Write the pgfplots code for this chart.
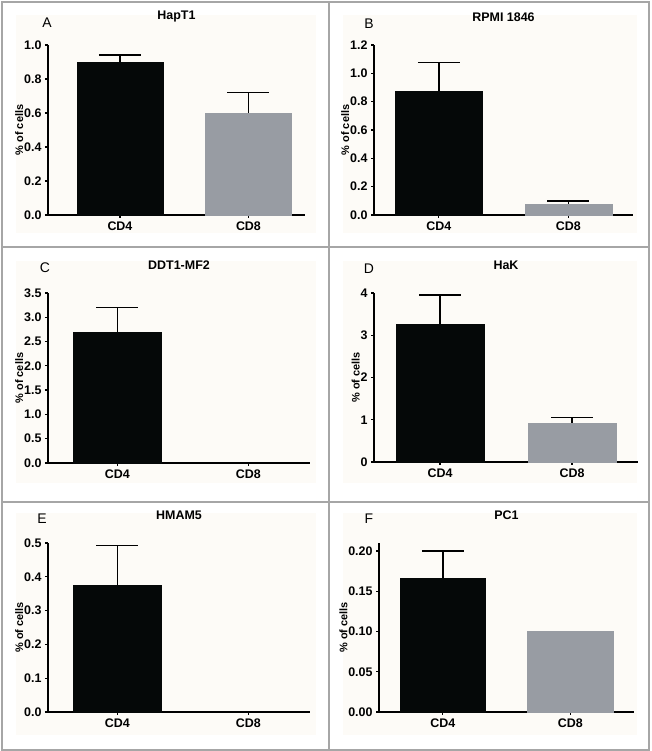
\documentclass[border=0pt]{standalone}
\usepackage{fontspec}
\setmainfont{Liberation Sans}
\usepackage{pgfplots}
\pgfplotsset{compat=1.18}
\definecolor{cdfour}{HTML}{050808}
\definecolor{cdeight}{HTML}{989CA3}
\definecolor{cream}{HTML}{FDFBF7}
\definecolor{bordergray}{HTML}{A6A6A6}

\pgfplotsset{panel/.style={
  scale only axis, anchor=south west,
  axis lines=left, axis line style={-, line width=1.3bp, black},
  xmin=-0.5, xmax=1.5, ymin=0,
  xtick={0,1}, xticklabels={CD4,CD8},
  tick align=outside, major tick length=3bp, tick style={line width=1.3bp, black},
  /pgf/number format/assume math mode=true,
  ticklabel style={font=\fontsize{12.5}{14}\selectfont\bfseries},
  ylabel={\% of cells}, ylabel shift=-6bp,
  ylabel style={font=\fontsize{11}{13}\selectfont\bfseries},
  title style={font=\fontsize{12.5}{14}\selectfont\bfseries, at={(0.5,1)}, anchor=center, yshift=22bp},
  clip=false,
},
barA/.style={ybar, bar width=0.67, fill=cdfour, draw=cdfour, line width=0.1bp,
  error bars/.cd, y dir=plus, y explicit, error mark=|,
  error bar style={draw=black, line width=1.5bp},
  error mark options={draw=black, line width=1.5bp, mark size=21bp}},
barB/.style={ybar, bar width=0.67, fill=cdeight, draw=cdeight, line width=0.1bp,
  error bars/.cd, y dir=plus, y explicit, error mark=|,
  error bar style={draw=black, line width=1.5bp},
  error mark options={draw=black, line width=1.5bp, mark size=21bp}},
barBn/.style={ybar, bar width=0.67, fill=cdeight, draw=cdeight, line width=0.1bp},
barZero/.style={ybar, bar width=0.67, fill=none, draw=none},
}

\begin{document}
\begin{tikzpicture}[x=1bp,y=1bp]
\fill[white] (0,0) rectangle (652,751);
% faint panel backgrounds
\fill[cream] (16,518) rectangle (316,736);
\fill[cream] (343,518) rectangle (637,736);
\fill[cream] (16,268) rectangle (316,490);
\fill[cream] (343,268) rectangle (637,490);
\fill[cream] (16,16) rectangle (316,238);
\fill[cream] (343,16) rectangle (637,238);
% frame
\draw[bordergray, line width=1.5bp] (2,1) rectangle (649,749);
\draw[bordergray, line width=1.5bp] (329,1) -- (329,749);
\draw[bordergray, line width=1.5bp] (2,504) -- (649,504);
\draw[bordergray, line width=1.5bp] (2,249) -- (649,249);

% A
\begin{axis}[panel, at={(48bp,536bp)}, width=257bp, height=170bp,
  xmin=-0.56, xmax=1.44,
  ymax=1.0, ytick={0,0.2,0.4,0.6,0.8,1.0},
  yticklabel style={/pgf/number format/.cd, fixed, fixed zerofill, precision=1},
  title={HapT1}]
\addplot[barA] coordinates {(0,0.90) +- (0,0.04)};
\addplot[barB] coordinates {(1,0.60) +- (0,0.12)};
\end{axis}

% B
\begin{axis}[panel, at={(374bp,536bp)}, width=259bp, height=170bp,
  ymax=1.2, ytick={0,0.2,0.4,0.6,0.8,1.0,1.2},
  yticklabel style={/pgf/number format/.cd, fixed, fixed zerofill, precision=1},
  title={RPMI 1846}]
\addplot[barA] coordinates {(0,0.875) +- (0,0.20)};
\addplot[barB] coordinates {(1,0.08) +- (0,0.02)};
\end{axis}

% C
\begin{axis}[panel, at={(48bp,288bp)}, width=262bp, height=170bp,
  xmin=-0.53, xmax=1.47,
  ymax=3.5, ytick={0,0.5,1.0,1.5,2.0,2.5,3.0,3.5},
  yticklabel style={/pgf/number format/.cd, fixed, fixed zerofill, precision=1},
  title={DDT1-MF2}]
\addplot[barA] coordinates {(0,2.70) +- (0,0.50)};
\addplot[barZero] coordinates {(1,0)};
\end{axis}

% D
\begin{axis}[panel, at={(374bp,289bp)}, width=264bp, height=169bp,
  ymax=4, ytick={0,1,2,3,4},
  title={HaK}]
\addplot[barA] coordinates {(0,3.27) +- (0,0.68)};
\addplot[barB] coordinates {(1,0.93) +- (0,0.12)};
\end{axis}

% E
\begin{axis}[panel, at={(48bp,39bp)}, width=262bp, height=169bp,
  xmin=-0.53, xmax=1.47,
  ymax=0.5, ytick={0,0.1,0.2,0.3,0.4,0.5},
  yticklabel style={/pgf/number format/.cd, fixed, fixed zerofill, precision=1},
  title={HMAM5}]
\addplot[barA] coordinates {(0,0.375) +- (0,0.117)};
\addplot[barZero] coordinates {(1,0)};
\end{axis}

% F
\begin{axis}[panel, at={(379bp,39bp)}, width=255bp, height=169bp,
  ymax=0.21, ytick={0,0.05,0.10,0.15,0.20},
  yticklabel style={/pgf/number format/.cd, fixed, fixed zerofill, precision=2},
  title={PC1}]
\addplot[barA] coordinates {(0,0.167) +- (0,0.033)};
\addplot[barBn] coordinates {(1,0.10)};
\end{axis}

% panel letters
\begin{scope}[every node/.style={font=\fontsize{14}{16}\selectfont, anchor=center}]
\node at (47,728) {A};
\node at (369,727) {B};
\node at (45,483) {C};
\node at (369,482) {D};
\node at (42,232) {E};
\node at (369,232) {F};
\end{scope}
\end{tikzpicture}
\end{document}
